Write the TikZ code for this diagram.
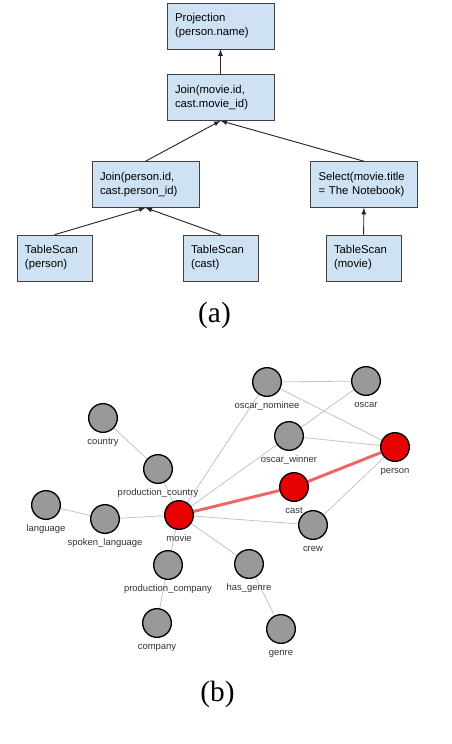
\documentclass[tikz,border=0pt]{standalone}
\usepackage{fontspec}
\setmainfont{Liberation Serif}
\setsansfont{Liberation Sans}
\usetikzlibrary{shadows,backgrounds}
\tikzset{>=latex}
\definecolor{opblue}{HTML}{CFE2F3}
\definecolor{nodegray}{HTML}{999999}
\definecolor{nodered}{HTML}{E60000}
\definecolor{edgegray}{HTML}{C4C4C4}
\definecolor{pathred}{HTML}{F06464}

\begin{document}
\begin{tikzpicture}[
    x=0.75pt, y=-0.75pt,
    op/.style={draw=black!75, fill=opblue, rectangle, inner xsep=6pt, inner ysep=0pt,
        minimum height=34.5pt, text width=68.25pt, align=left,
        font=\sffamily\fontsize{8.5}{10.5}\selectfont,
        drop shadow={shadow xshift=0.7pt, shadow yshift=-0.7pt, opacity=0.35}},
    scan/.style={op, text width=44.25pt},
    rel/.style={circle, draw, line width=1pt, fill=nodegray, minimum size=21.5pt, inner sep=0pt},
    hit/.style={rel, fill=nodered},
    every label/.style={font=\sffamily\fontsize{7.1}{8}\selectfont, text=black!80,
        inner sep=0pt, text height=5.2pt, text depth=1.5pt},
    label distance=3pt,
    link/.style={draw=edgegray, line width=0.6pt},
    hitlink/.style={draw=pathred, line width=2.2pt}
]
    \useasboundingbox (0,0) rectangle (452,744);

    % Nodes (a)
    \node[op] (Projection) at (220.5,26) {Projection\\(person.name)};
    \node[op] (JoinMovie) at (220.5,97.5) {Join(movie.id,\\cast.movie\_id)};
    \node[op] (JoinPerson) at (145.5,184.5) {Join(person.id,\\cast.person\_id)};
    \node[op] (SelectTitle) at (364,184.5) {Select(movie.title\\= The Notebook)};
    \node[scan] (ScanPerson) at (54.5,258) {TableScan\\(person)};
    \node[scan] (ScanCast) at (220.5,258) {TableScan\\(cast)};
    \node[scan] (ScanMovie) at (363.5,258) {TableScan\\(movie)};
    \node (CapA) at (214.5,315) {\fontsize{22}{26}\selectfont (a)};

    % Arrows (a)
    \draw[->, black!85, line width=0.7pt] (JoinMovie) -- (Projection);
    \draw[->, black!85, line width=0.7pt] (JoinPerson.north) -- (JoinMovie.south);
    \draw[->, black!85, line width=0.7pt] (SelectTitle.north) -- (JoinMovie.south);
    \draw[->, black!85, line width=0.7pt] (ScanPerson.north) -- (JoinPerson.south);
    \draw[->, black!85, line width=0.7pt] (ScanCast.north) -- (JoinPerson.south);
    \draw[->, black!85, line width=0.7pt] (ScanMovie) -- (SelectTitle);

    % Nodes (b)
    \node[rel, label=below:oscar\_nominee] (OscarNominee) at (267,382) {};
    \node[rel, label=below:oscar] (Oscar) at (366,381) {};
    \node[rel, label=below:country] (Country) at (103,418) {};
    \node[rel, label=below:oscar\_winner] (OscarWinner) at (289,436) {};
    \node[hit, label=below:person] (Person) at (395,447) {};
    \node[rel, label=below:production\_country] (ProdCountry) at (158,469) {};
    \node[hit, label=below:cast] (Cast) at (294,487) {};
    \node[rel, label=below:language] (Language) at (46,505) {};
    \node[rel, label=below:spoken\_language] (SpokenLang) at (105,519) {};
    \node[hit, label=below:movie] (Movie) at (179,515) {};
    \node[rel, label=below:crew] (Crew) at (313,525) {};
    \node[rel, label=below:production\_company] (ProdCompany) at (168,565) {};
    \node[rel, label=below:has\_genre] (HasGenre) at (249,564) {};
    \node[rel, label=below:company] (Company) at (157,623) {};
    \node[rel, label=below:genre] (Genre) at (281,629) {};
    \node (CapB) at (217.5,694.5) {\fontsize{22}{26}\selectfont (b)};

    % Edges (b)
    \begin{scope}[on background layer]
        \draw[link] (OscarNominee) -- (Oscar);
        \draw[link] (OscarNominee) -- (Person);
        \draw[link] (Oscar) -- (OscarWinner);
        \draw[link] (OscarWinner) -- (Person);
        \draw[link] (OscarWinner) -- (Movie);
        \draw[link] (OscarNominee) -- (Movie);
        \draw[link] (Country) -- (ProdCountry);
        \draw[link] (ProdCountry) -- (Movie);
        \draw[link] (Language) -- (SpokenLang);
        \draw[link] (SpokenLang) -- (Movie);
        \draw[link] (Movie) -- (Crew);
        \draw[link] (Crew) -- (Person);
        \draw[link] (Movie) -- (ProdCompany);
        \draw[link] (ProdCompany) -- (Company);
        \draw[link] (Movie) -- (HasGenre);
        \draw[link] (HasGenre) -- (Genre);
        \draw[hitlink] (Movie) -- (Cast);
        \draw[hitlink] (Cast) -- (Person);
    \end{scope}
\end{tikzpicture}
\end{document}
